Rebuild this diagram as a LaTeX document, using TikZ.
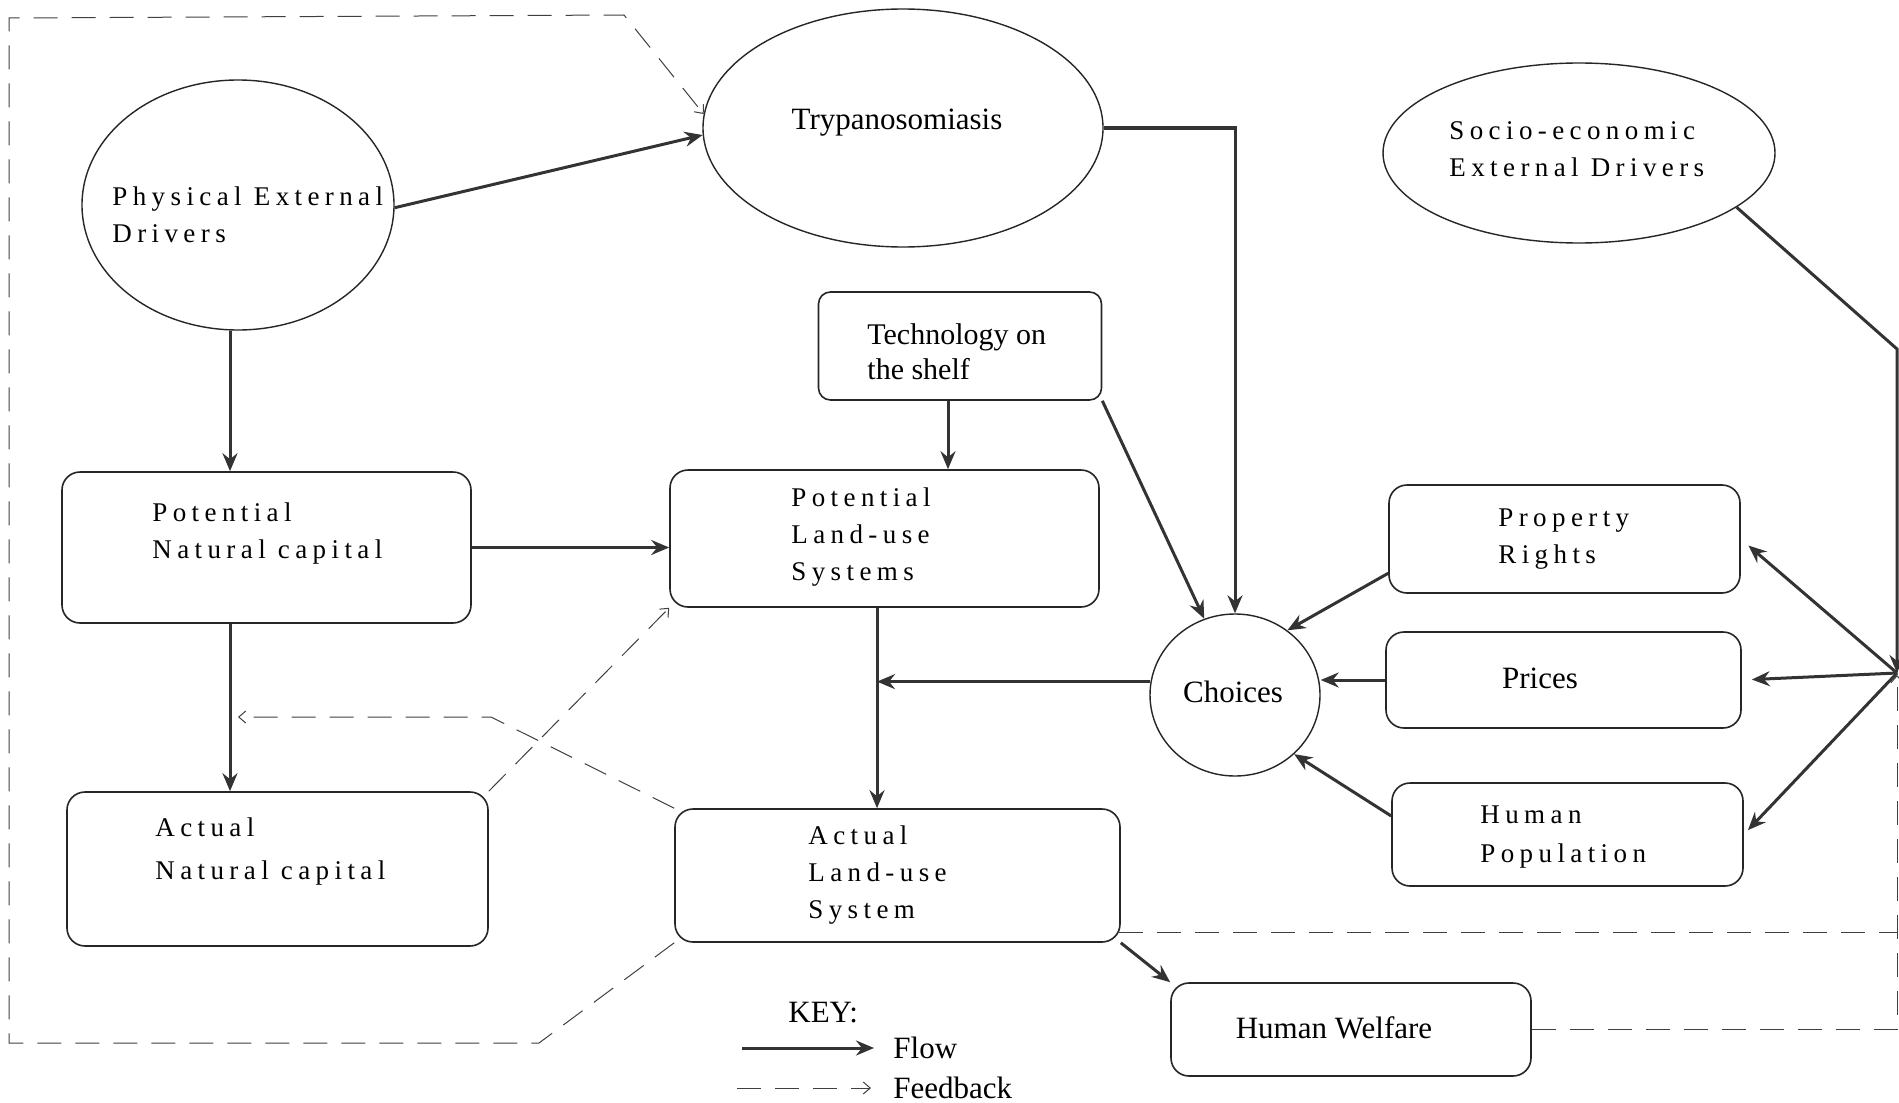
\documentclass[tikz,border=0pt]{standalone}
\usepackage{fontspec}
\setmainfont{Liberation Serif}
\newfontfamily\spc[LetterSpace=20]{Liberation Serif}
\usetikzlibrary{shapes.geometric,arrows.meta}
\tikzset{
  box/.style={draw=black!85, line width=0.8pt, rounded corners=9pt, inner sep=0pt, rectangle},
  oval/.style={draw=black!85, line width=0.7pt, ellipse, inner sep=0pt},
  flow/.style={draw=black!80, line width=1.5pt, -{Stealth[length=9pt,width=7.5pt,inset=3pt]}},
  fb/.style={draw=black!75, line width=0.5pt, dash pattern=on 12pt off 7pt},
  fbarrow/.style={fb, -{Straight Barb[length=3.5pt,width=6pt]}},
  sp/.style={font=\spc\fontsize{13.5}{18.5}\selectfont, align=left, inner sep=0pt},
  tx/.style={font=\fontsize{15.5}{17.5}\selectfont, align=left, inner sep=0pt},
}
\begin{document}
\begin{tikzpicture}[x=0.5pt,y=-0.5pt]
\useasboundingbox[fill=white] (0,0) rectangle (1899,1102);

% ---- shapes ----
\node[oval, minimum width=156pt, minimum height=125pt] (phys) at (238,205) {};
\node[oval, minimum width=200pt, minimum height=119pt] (tryp) at (903,128) {};
\node[oval, minimum width=196pt, minimum height=90pt] (socio) at (1579,153) {};
\node[oval, minimum width=85pt, minimum height=81pt] (choices) at (1235,695) {};

\node[box, rounded corners=6pt, minimum width=141.5pt, minimum height=54pt] (tech) at (960,346) {};
\node[box, minimum width=204.5pt, minimum height=75.5pt] (pnc) at (266.5,547.5) {};
\node[box, minimum width=214.5pt, minimum height=68.5pt] (pls) at (884.5,538.5) {};
\node[box, minimum width=210.5pt, minimum height=77pt] (anc) at (277.5,869) {};
\node[box, minimum width=222.5pt, minimum height=66.5pt] (als) at (897.5,875.5) {};
\node[box, minimum width=175.5pt, minimum height=54pt] (pr) at (1564.5,539) {};
\node[box, minimum width=177.5pt, minimum height=48pt] (prices) at (1563.5,680) {};
\node[box, minimum width=175.5pt, minimum height=51.5pt] (hp) at (1567.5,834.5) {};
\node[box, minimum width=180pt, minimum height=46.5pt] (hw) at (1351,1029.5) {};

% ---- texts ----
\node[sp, anchor=west] (physt) at (112,214.5) {Physical External\\Drivers};
\node[sp, anchor=west] (sociot) at (1449,149) {Socio-economic\\External Drivers};
\node[tx] (trypt) at (897,123) {Trypanosomiasis};
\node[tx, anchor=west, font=\fontsize{15}{17.5}\selectfont] (techt) at (867,352) {Technology on\\the shelf};
\node[sp, anchor=west] (pnct) at (152,533.5) {Potential\\Natural capital};
\node[sp, anchor=west] (plst) at (791,537) {Potential\\Land-use\\Systems};
\node[sp, anchor=west, font=\spc\fontsize{13.5}{21.5}\selectfont] (anct) at (155,851.5) {Actual\\Natural capital};
\node[sp, anchor=west] (alst) at (808,875) {Actual\\Land-use\\System};
\node[tx] (choicest) at (1233,692) {Choices};
\node[sp, anchor=west] (prt) at (1498,539) {Property\\Rights};
\node[tx] (pricest) at (1540,678) {Prices};
\node[sp, anchor=west, font=\spc\fontsize{13.5}{19.5}\selectfont] (hpt) at (1480,837.5) {Human\\Population};
\node[tx] (hwt) at (1334,1028) {Human Welfare};

% key
\node[tx, anchor=west] (keyt) at (788,1013) {KEY:};
\node[tx, anchor=west] (flowt) at (893,1048) {Flow};
\node[tx, anchor=west] (fbt) at (893,1088) {Feedback};

% ---- helper coordinates ----
\coordinate (colA) at (230,0);
\coordinate (colB) at (948,0);
\coordinate (colC) at (877,0);
\coordinate (hub) at (1897,673);
\coordinate (sc) at (1897,349);
\coordinate (fbk) at (491,717);
\coordinate (alsr) at (1119,932);
\coordinate (ob1) at (539,1043);
\coordinate (ob2) at (9,1043);
\coordinate (ob3) at (9,18);
\coordinate (ob4) at (624,15);
\coordinate (kfs) at (742,1048);
\coordinate (kbs) at (737,1088);

% ---- flow connectors ----
\draw[flow] (phys.-1) -- (tryp.182);
\draw[flow] (colA |- phys.south) -- (colA |- pnc.north);
\draw[flow] (colA |- pnc.south) -- (colA |- anc.north);
\draw[flow] (pnc.east) -- (pnc.east -| pls.west);
\draw[flow] (colB |- tech.south) -- (colB |- pls.north);
\draw[flow] (tech.south east) -- (choices.112);
\draw[flow] (tryp.east) -| (choices.north);
\draw[flow] (choices.171) -- (choices.171 -| colC);
\draw[flow] (colC |- pls.south) -- (colC |- als.north);
\draw[flow] (pr.191) -- (choices.51);
\draw[flow] (prices.west) -- (prices.west -| choices.east);
\draw[flow] (hp.174) -- (choices.315);
\draw[flow] (socio.-19) -- (sc) -- (hub);
\draw[flow, shorten >=5pt] (hub) -- (pr.east);
\draw[flow, shorten >=5pt] (hub) -- (prices.east);
\draw[flow, shorten >=3pt] (hub) -- (hp.east);
\draw[flow] (als.south east) -- (hw.north west);

% ---- feedback connectors ----
\draw[fbarrow] (als.south west) -- (ob1) -- (ob2) -- (ob3) -- (ob4) -- (tryp.176);
\draw[fbarrow, shorten >=4pt] (als.north west) -- (fbk) -- (fbk -| colA);
\draw[fbarrow] (anc.north east) -- (pls.south west);
\draw[fb] (alsr) -- (alsr -| hub);
\draw[fbarrow, shorten >=1pt] (hw.east) -- (hw.east -| hub) -- (hub);

% ---- key ----
\draw[flow, shorten >=9.5pt] (kfs) -- (kfs -| flowt.west);
\draw[fbarrow, shorten >=11pt] (kbs) -- (kbs -| fbt.west);
\end{tikzpicture}
\end{document}
